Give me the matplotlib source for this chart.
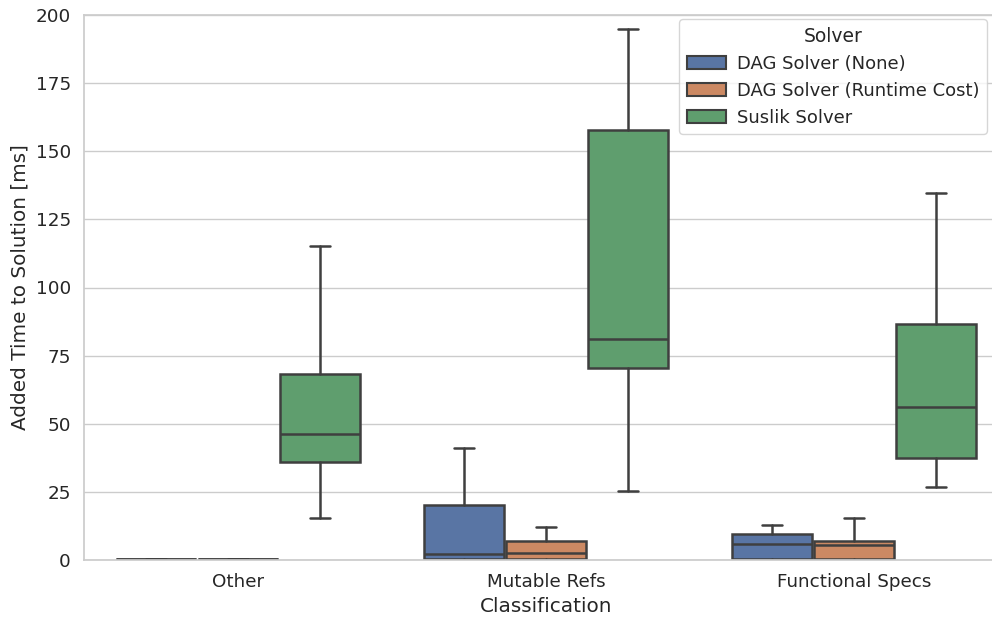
import numpy as np
import seaborn as sns
from matplotlib import pyplot as plt
from matplotlib.patches import Patch

sns.set_theme(style="whitegrid", font_scale=1.2)

categories = ["Other", "Mutable Refs", "Functional Specs"]
solvers = ["DAG Solver (None)", "DAG Solver (Runtime Cost)", "Suslik Solver"]

# per solver, per category: whislo, q1, med, q3, whishi
whislo = [[0.5, 0.0, 0.0], [0.2, 0.0, 0.0], [15.3, 25.4, 26.9]]
q1 = [[0.5, 0.4, 0.2], [0.2, 0.4, 0.2], [36.0, 70.5, 37.4]]
med = [[0.5, 2.2, 5.9], [0.2, 2.6, 5.5], [46.1, 81.1, 56.1]]
q3 = [[0.5, 20.3, 9.5], [0.2, 7.0, 7.0], [68.3, 157.8, 86.7]]
whishi = [[0.5, 41.1, 12.9], [0.2, 12.1, 15.5], [115.2, 194.9, 134.6]]

colors = [sns.desaturate(c, 0.75) for c in sns.color_palette("deep")[:3]]
lc = "#3f3f3f"

fig = plt.figure(figsize=(9.92, 6.17), dpi=100)
ax = fig.add_axes([84 / 992, 57 / 617, 924 / 992, 545 / 617])

width = 0.8 / 3
for s in range(3):
    stats = []
    for c in range(3):
        stats.append(dict(whislo=whislo[s][c], q1=q1[s][c], med=med[s][c],
                          q3=q3[s][c], whishi=whishi[s][c]))
    pos = np.arange(3) + (s - 1) * width
    bp = ax.bxp(stats, positions=pos, widths=width * 0.98, patch_artist=True,
                showfliers=False, manage_ticks=False,
                boxprops=dict(facecolor=colors[s], edgecolor=lc, linewidth=1.8),
                medianprops=dict(color=lc, linewidth=1.8),
                whiskerprops=dict(color=lc, linewidth=1.8),
                capprops=dict(color=lc, linewidth=1.8))
    for cap in bp["caps"]:
        x0, x1 = cap.get_xdata()
        m = (x0 + x1) / 2
        cap.set_xdata([m - (x1 - x0) / 4, m + (x1 - x0) / 4])

ax.set_xticks(range(3))
ax.set_xticklabels(categories)
ax.set_xlim(-0.5, 2.5)
ax.set_ylim(0, 200)
ax.set_xlabel("Classification")
ax.set_ylabel("Added Time to Solution [ms]")
ax.grid(axis="x", visible=False)

handles = [Patch(facecolor=colors[i], edgecolor=lc, linewidth=1.5, label=solvers[i]) for i in range(3)]
ax.legend(handles=handles, title="Solver", loc="upper right",
          bbox_to_anchor=(0.985, 1.005), fontsize=13, title_fontsize=13.5,
          handlelength=2.2, handletextpad=0.6, borderaxespad=0.4)

fig.savefig("out.png")
